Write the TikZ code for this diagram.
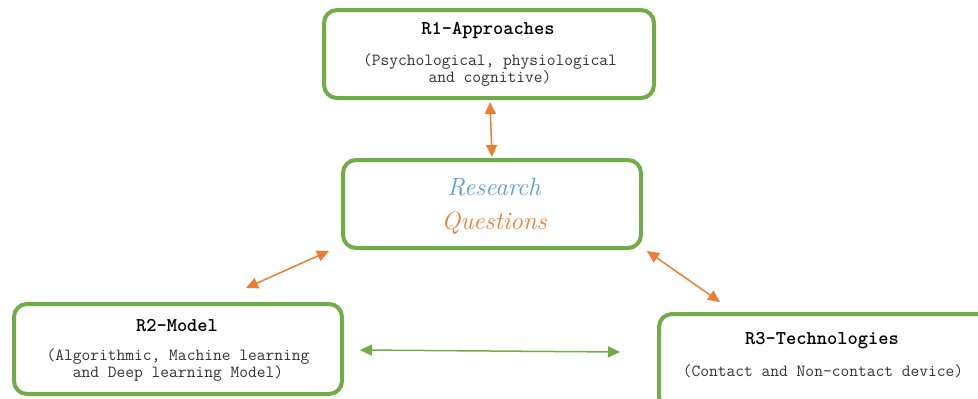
\documentclass[tikz,border=0pt]{standalone}
\usepackage{fontspec}
\usetikzlibrary{arrows.meta}
\definecolor{boxgreen}{HTML}{70AD47}
\definecolor{linkorange}{HTML}{ED7D31}
\definecolor{wordblue}{HTML}{5B9BD5}
\tikzset{
  panel/.style={draw=boxgreen, line width=4pt, rounded corners=13pt, fill=white, inner sep=0pt},
  heading/.style={font=\fontsize{19.5}{20}\selectfont\ttfamily\bfseries, inner sep=0pt},
  detail/.style={font=\fontsize{17}{16.5}\selectfont\ttfamily, align=center, inner sep=0pt, text=black!80},
  orangelink/.style={draw=linkorange, line width=1.5pt, {Triangle[length=12pt,width=11pt]}-{Triangle[length=12pt,width=11pt]}},
  greenlink/.style={draw=boxgreen, line width=1.5pt, {Triangle[length=12pt,width=11pt]}-{Triangle[length=12pt,width=11pt]}}
}
\begin{document}
\begin{tikzpicture}[x=1pt,y=-1pt]
\useasboundingbox (0,0) rectangle (978,399);
\clip (0,0) rectangle (978,399);

% the four boxes
\node[panel, minimum width=330pt, minimum height=88pt] (r1) at (489,54) {};
\node[panel, minimum width=298pt, minimum height=88pt] (rq) at (492,204) {};
\node[panel, minimum width=328pt, minimum height=90pt] (r2) at (178,349) {};
\node[panel, minimum width=336pt, minimum height=96pt] (r3) at (827,362) {};

% box texts
\node[heading] (r1title) at (488,31) {R1-Approaches};
\node[detail] (r1text) at (490,70) {(Psychological, physiological\\and cognitive)};
\node[font=\fontsize{25}{34}\selectfont\itshape, align=center, inner sep=0pt] (rqtext) at (494,206)
  {\textcolor{wordblue}{Research}\\\textcolor{linkorange}{Questions}};
\node[heading] (r2title) at (177,326) {R2-Model};
\node[detail] (r2text) at (178,365) {(Algorithmic, Machine learning\\and Deep learning Model)};
\node[heading] (r3title) at (822,341) {R3-Technologies};
\node[detail] (r3text) at (823,371) {(Contact and Non-contact device)};

% connector end points
\coordinate (a1) at (490,102);
\coordinate (a2) at (492,157);
\coordinate (b1) at (329,251);
\coordinate (b2) at (246,288);
\coordinate (c1) at (647,251);
\coordinate (c2) at (720,302);
\coordinate (d1) at (360,350);
\coordinate (d2) at (620,352);

\draw[orangelink] (a1) -- (a2);
\draw[orangelink] (b1) -- (b2);
\draw[orangelink] (c1) -- (c2);
\draw[greenlink] (d1) -- (d2);
\end{tikzpicture}
\end{document}
